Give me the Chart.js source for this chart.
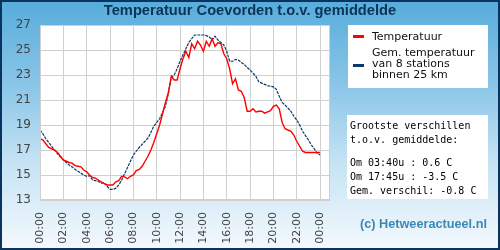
<!DOCTYPE html>
<html>
<head>
<meta charset="utf-8">
<script src="https://cdn.jsdelivr.net/npm/chart.js@4"></script>
<style>
  body { margin: 0; }
  #wrap { position: relative; width: 500px; height: 250px; overflow: hidden;
    background: linear-gradient(to bottom, #56acdb 0%, #8cc6e8 35%, #c6e3f4 65%, #f4f9fd 100%); }
  #chart { position: absolute; left: 0; top: 0; }
  #frame { position: absolute; left: 0; top: 0; width: 500px; height: 250px; box-sizing: border-box;
    border: 2px solid #0a3460; pointer-events: none; }
  #title { position: absolute; left: 0; top: 2px; width: 500px; text-align: center;
    font: bold 14.7px "Liberation Sans", Arial, sans-serif; color: #0a3358; }
  #legend { position: absolute; left: 348px; top: 25px; width: 140px; height: 63px; background: #fff;
    font: 11px "DejaVu Sans", sans-serif; color: #111; }
  .sw { position: absolute; left: 5px; width: 11px; height: 3px; }
  .lt { position: absolute; left: 24px; line-height: 11px; }
  #info { position: absolute; left: 347px; top: 115px; width: 141px; height: 84px; background: #fff;
    font: 10px "DejaVu Sans Mono", monospace; color: #000; line-height: 14px; white-space: pre;
    box-sizing: border-box; padding: 4px 0 0 3px; }
  #info .gap { height: 9px; }
  #copy { position: absolute; left: 360px; top: 217px; font: bold 12.7px "Liberation Sans", Arial, sans-serif;
    color: #3b88b4; }
</style>
</head>
<body>
<div id="wrap">
  <canvas id="chart" width="500" height="250"></canvas>
  <div id="title">Temperatuur Coevorden t.o.v. gemiddelde</div>
  <div id="legend">
    <div class="sw" style="top:10px;background:#ff0000"></div>
    <div class="lt" style="top:6px">Temperatuur</div>
    <div class="sw" style="top:39px;background:#0b3a66"></div>
    <div class="lt" style="top:22px">Gem. temperatuur<br>van 8 stations<br>binnen 25 km</div>
  </div>
  <div id="info"><div>Grootste verschillen</div><div>t.o.v. gemiddelde:</div><div class="gap"></div><div>Om 03:40u : 0.6 C</div><div>Om 17:45u : -3.5 C</div><div>Gem. verschil: -0.8 C</div></div>
  <div id="copy">(c) Hetweeractueel.nl</div>
  <div id="frame"></div>
</div>
<script>
const hours = [
  0, 0.25, 0.5, 0.75, 1, 1.25, 1.5, 1.75, 2, 2.25, 2.5, 2.75,
  3, 3.25, 3.5, 3.75, 4, 4.25, 4.5, 4.75, 5, 5.25, 5.5, 5.75,
  6, 6.25, 6.5, 6.75, 7, 7.25, 7.5, 7.75, 8, 8.25, 8.5, 8.75,
  9, 9.25, 9.5, 9.75, 10, 10.25, 10.5, 10.75, 11, 11.25, 11.5, 11.75,
  12, 12.25, 12.5, 12.75, 13, 13.25, 13.5, 13.75, 14, 14.25, 14.5, 14.75,
  15, 15.25, 15.5, 15.75, 16, 16.25, 16.5, 16.75, 17, 17.25, 17.5, 17.75,
  18, 18.25, 18.5, 18.75, 19, 19.25, 19.5, 19.75, 20, 20.25, 20.5, 20.75,
  21, 21.25, 21.5, 21.75, 22, 22.25, 22.5, 22.75, 23, 23.25, 23.5, 23.75, 24
];

// Temperatuur Coevorden
const tempLocal = [
  17.9, 17.8, 17.5, 17.2, 17.1, 17.0, 16.8, 16.5, 16.2, 16.1, 16.0, 15.95,
  15.75, 15.7, 15.65, 15.4, 15.25, 15.0, 14.8, 14.75, 14.6, 14.45, 14.3, 14.2,
  14.2, 14.2, 14.45, 14.55, 14.9, 14.85, 14.7, 14.9, 15.0, 15.35, 15.45, 15.7,
  16.1, 16.5, 17.0, 17.6, 18.3, 19.0, 19.9, 20.8, 21.6, 22.9, 22.6, 22.6,
  23.5, 24.3, 24.9, 24.4, 25.5, 25.1, 25.7, 25.4, 24.9, 25.7, 25.3, 25.9,
  25.3, 25.6, 25.5, 24.7, 24.3, 23.5, 22.3, 22.7, 21.8, 21.7, 21.2, 20.1,
  20.1, 20.3, 20.05, 20.1, 20.1, 19.95, 20.05, 20.15, 20.5, 20.6, 20.3, 19.2,
  18.7, 18.6, 18.5, 18.2, 17.7, 17.3, 16.9, 16.8, 16.8, 16.8, 16.8, 16.8, 16.8
];

// Gem. temperatuur van 8 stations binnen 25 km
const tempAvg = [
  18.6, 18.3, 17.9, 17.6, 17.3, 17.0, 16.7, 16.45, 16.2, 16.0, 15.8, 15.65,
  15.45, 15.3, 15.15, 15.0, 14.9, 14.95, 14.6, 14.55, 14.5, 14.35, 14.4, 14.1,
  13.85, 13.85, 13.95, 14.2, 14.6, 15.1, 15.6, 16.1, 16.6, 16.9, 17.2, 17.45,
  17.7, 17.95, 18.4, 18.9, 19.2, 19.5, 20.0, 20.5, 21.5, 22.8, 23.0, 23.5,
  24.1, 24.6, 25.1, 25.6, 25.9, 26.2, 26.2, 26.2, 26.2, 26.15, 26.05, 25.8,
  26.1, 25.8, 25.6, 25.4, 24.9, 24.1, 24.1, 24.25, 24.2, 24.0, 23.85, 23.6,
  23.4, 23.15, 22.9, 22.45, 22.35, 22.25, 22.15, 22.1, 22.05, 21.85, 21.3, 20.8,
  20.6, 20.35, 20.1, 19.7, 19.4, 19.0, 18.5, 18.15, 17.8, 17.4, 17.1, 16.75, 16.6
];

const xTicks = [0, 2, 4, 6, 8, 10, 12, 14, 16, 18, 20, 22, 24];
const xTickLabels = ['00:00', '02:00', '04:00', '06:00', '08:00', '10:00', '12:00',
  '14:00', '16:00', '18:00', '20:00', '22:00', '00:00'];
const yTicks = [13, 15, 17, 19, 21, 23, 25, 27];

const plotBg = {
  id: 'plotBg',
  beforeDraw(chart) {
    const { ctx, chartArea: a } = chart;
    ctx.save();
    ctx.fillStyle = '#fff';
    ctx.fillRect(a.left, a.top, a.right - a.left, a.bottom - a.top);
    ctx.restore();
  },
  afterDatasetsDraw(chart) {
    const { ctx, chartArea: a } = chart;
    ctx.save();
    ctx.strokeStyle = '#cfcfcf';
    ctx.lineWidth = 1;
    ctx.strokeRect(a.left + 0.5, a.top + 0.5, a.right - a.left - 1, a.bottom - a.top - 1);
    ctx.restore();
  }
};

new Chart(document.getElementById('chart'), {
  type: 'line',
  data: {
    datasets: [{
      label: 'Temperatuur',
      data: hours.map((h, i) => ({ x: h, y: tempLocal[i] })),
      borderColor: '#ff0000',
      borderWidth: 1.4,
      pointRadius: 0,
      tension: 0
    }, {
      label: 'Gem. temperatuur van 8 stations binnen 25 km',
      data: hours.map((h, i) => ({ x: h, y: tempAvg[i] })),
      borderColor: '#0b3a66',
      borderWidth: 1.2,
      borderDash: [3, 1],
      pointRadius: 0,
      tension: 0
    }]
  },
  options: {
    responsive: false,
    animation: false,
    layout: { padding: { left: 0, right: 170, top: 25, bottom: 0 } },
    plugins: { legend: { display: false }, tooltip: { enabled: false }, title: { display: false } },
    scales: {
      x: {
        type: 'linear',
        min: 0,
        max: 24.85,
        afterBuildTicks: s => { s.ticks = xTicks.map(v => ({ value: v })); },
        afterFit: s => { s.height = 50; },
        grid: { color: '#d0d0d0', drawTicks: false },
        border: { display: false },
        ticks: {
          minRotation: 90,
          maxRotation: 90,
          padding: 12,
          color: '#444',
          font: { family: 'DejaVu Sans', size: 11 },
          callback: (v) => xTickLabels[xTicks.indexOf(v)]
        }
      },
      y: {
        min: 13,
        max: 27,
        afterBuildTicks: s => { s.ticks = yTicks.map(v => ({ value: v })); },
        afterFit: s => { s.width = 40; },
        grid: { color: '#d0d0d0', drawTicks: false },
        border: { display: false },
        ticks: {
          padding: 9,
          color: '#444',
          font: { family: 'DejaVu Sans', size: 12 }
        }
      }
    }
  },
  plugins: [plotBg]
});
</script>
</body>
</html>
